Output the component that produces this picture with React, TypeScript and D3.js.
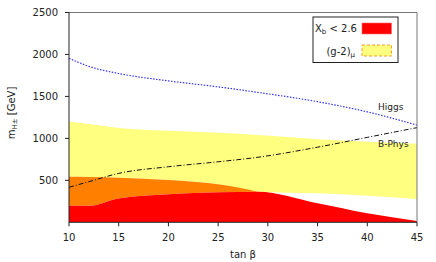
import React from 'react';
import * as d3 from 'd3';

// tan beta sample points
const tanBeta = [10, 12, 15, 20, 25, 29, 35, 40, 45];
// X_b < 2.6 region (red), upper edge
const xbTop = [196, 196, 285, 333, 357, 364, 226, 107, 15];
// orange overlap region, upper edge (only up to tan beta 29)
const orangeX = [10, 12, 15, 20, 25, 29];
const orangeTop = [543, 541, 531, 503, 452, 364];
// (g-2)_mu band
const g2Top = [1197, 1170, 1125, 1090, 1066, 1040, 990, 960, 935];
const g2Bottom = [543, 541, 531, 503, 452, 364, 345, 317, 277];
// limit lines
const higgs = [1955, 1858, 1773, 1685, 1614, 1548, 1437, 1316, 1158];
const bphys = [417, 484, 583, 662, 721, 775, 895, 1012, 1128];

const xTicks = [10, 15, 20, 25, 30, 35, 40, 45];
const yTicks = [500, 1000, 1500, 2000, 2500];

const W = 436;
const H = 262;
const left = 69, right = 417, top = 12.5, bottom = 222.3;
const font = 'DejaVu Sans, sans-serif';

export default function App() {
  const x = d3.scaleLinear().domain([10, 45]).range([left, right]);
  const y = d3.scaleLinear().domain([0, 2500]).range([bottom, top]);

  const band = (xs: number[], lo: number[], hi: number[]) =>
    d3.area<number>()
      .x((_, i) => x(xs[i]))
      .y0((_, i) => y(lo[i]))
      .y1((_, i) => y(hi[i]))
      .curve(d3.curveMonotoneX)(xs) || '';

  const line = (vals: number[]) =>
    d3.line<number>()
      .x((_, i) => x(tanBeta[i]))
      .y(d => y(d))
      .curve(d3.curveMonotoneX)(vals) || '';

  const zeros = tanBeta.map(() => 0);
  const orangeBottom = orangeX.map(t => xbTop[tanBeta.indexOf(t)]);

  return (
    <svg width={W} height={H} style={{ position: 'absolute', left: 0, top: 0 }}>
      <rect width={W} height={H} fill="#fff" />
      <defs>
        <clipPath id="plot">
          <rect x={left} y={top} width={right - left} height={bottom - top} />
        </clipPath>
      </defs>
      <g clipPath="url(#plot)">
        <path d={band(tanBeta, g2Bottom, g2Top)} fill="#ffff80" />
        <path d={band(orangeX, orangeBottom, orangeTop)} fill="#ff8000" />
        <path d={band(tanBeta, zeros, xbTop)} fill="#ff0000" />
        <path d={line(higgs)} fill="none" stroke="#3333ff" strokeWidth={1.2} strokeDasharray="1.5,1.5" />
        <path d={line(bphys)} fill="none" stroke="#111" strokeWidth={1} strokeDasharray="5,2,1,2" />
      </g>
      {/* frame */}
      <line x1={left} x2={right} y1={top} y2={top} stroke="#777" />
      <line x1={right} x2={right} y1={top} y2={bottom} stroke="#777" />
      <line x1={left} x2={left} y1={top} y2={bottom} stroke="#222" />
      <line x1={left} x2={right} y1={bottom} y2={bottom} stroke="#222" />
      {xTicks.map(t => (
        <g key={t}>
          <line x1={x(t)} x2={x(t)} y1={bottom} y2={bottom + 4} stroke="#222" />
          <text x={x(t)} y={241} textAnchor="middle" fontFamily={font} fontSize={10} fill="#222">{t}</text>
        </g>
      ))}
      {yTicks.map(t => (
        <g key={t}>
          <line x1={left - 4} x2={left} y1={y(t)} y2={y(t)} stroke="#222" />
          <text x={58} y={y(t) + 3.5} textAnchor="end" fontFamily={font} fontSize={10} fill="#222">{t}</text>
        </g>
      ))}
      <text x={(left + right) / 2} y={258} textAnchor="middle" fontFamily={font} fontSize={10} fill="#222">tan β</text>
      <text transform={`translate(15,113) rotate(-90)`} textAnchor="middle" fontFamily={font} fontSize={10} fill="#222">
        m<tspan fontSize={7} dy={2}>H±</tspan><tspan dy={-2}> [GeV]</tspan>
      </text>
      <text x={378} y={110} fontFamily={font} fontSize={9} fill="#222">Higgs</text>
      <text x={378} y={147} fontFamily={font} fontSize={9} fill="#222">B-Phys</text>
      {/* legend */}
      <rect x={313} y={17} width={85} height={45.5} fill="#fff" stroke="#222" />
      <text x={315} y={32} fontFamily={font} fontSize={10} fill="#222">
        X<tspan fontSize={7} dy={2}>b</tspan><tspan dy={-2}> &lt; 2.6</tspan>
      </text>
      <rect x={362} y={23} width={29.5} height={11} fill="#ff0000" stroke="#ff6666" strokeWidth={0.6} />
      <text x={355} y={55} textAnchor="end" fontFamily={font} fontSize={10} fill="#222">
        (g-2)<tspan fontSize={7} dy={2}>μ</tspan>
      </text>
      <rect x={362} y={45} width={29.5} height={11} fill="#ffff80" stroke="#ff8000" strokeWidth={0.8} strokeDasharray="3,2" />
    </svg>
  );
}
